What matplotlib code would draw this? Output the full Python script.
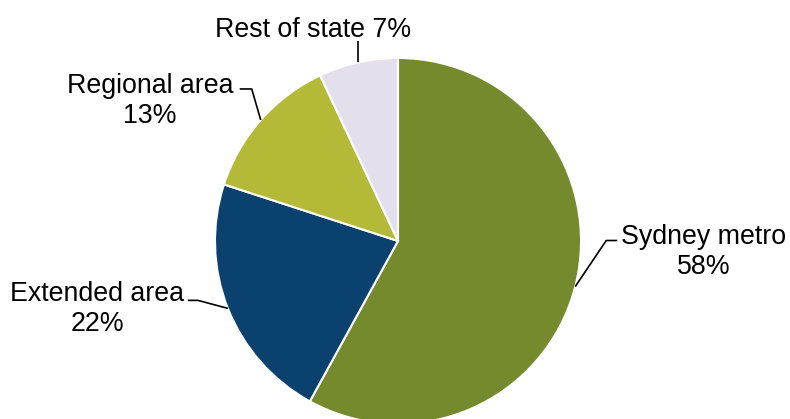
import numpy as np
import matplotlib.pyplot as plt

labels = ["Sydney metro", "Extended area", "Regional area", "Rest of state"]
shares = [58, 22, 13, 7]
colors = ["#758A2C", "#0A416F", "#B4BA38", "#E4DFEC"]

plt.rcParams['font.family'] = ['Liberation Sans', 'DejaVu Sans']

W, H = 790, 419
fig = plt.figure(figsize=(W / 100, H / 100), dpi=100)
ax = fig.add_axes([0, 0, 1, 1])

cx, cy, r = 398, 178, 183
wedges, _ = ax.pie(shares, colors=colors, startangle=90, counterclock=False,
                   center=(cx, cy), radius=r,
                   wedgeprops=dict(edgecolor="white", linewidth=1.5))
ax.set_xlim(0, W)
ax.set_ylim(0, H)
ax.set_aspect("equal")
ax.axis("off")

# leader line elbows (relative offsets from the wedge edge) and label positions
elbows = [[(31, 46), (42, 46)], [(-30, 8), (-40, 8)],
          [(-9, 31), (-21, 31)], [(0, 21)]]
text_pos = [(704, 167), (97, 110), (150, 318), (313, 389)]

for w, lab, val, elb, tp in zip(wedges, labels, shares, elbows, text_pos):
    ang = np.deg2rad((w.theta1 + w.theta2) / 2)
    x0, y0 = cx + r * np.cos(ang), cy + r * np.sin(ang)
    xs = [x0] + [x0 + dx for dx, dy in elb]
    ys = [y0] + [y0 + dy for dx, dy in elb]
    ax.plot(xs, ys, color="black", lw=1.2, solid_capstyle="butt")
    txt = f"{lab} {val}%" if lab == "Rest of state" else f"{lab}\n{val}%"
    ax.text(tp[0], tp[1], txt, ha="center", va="center", fontsize=19.3,
            linespacing=1.22, color="black")

fig.savefig("out.png", dpi=100)
